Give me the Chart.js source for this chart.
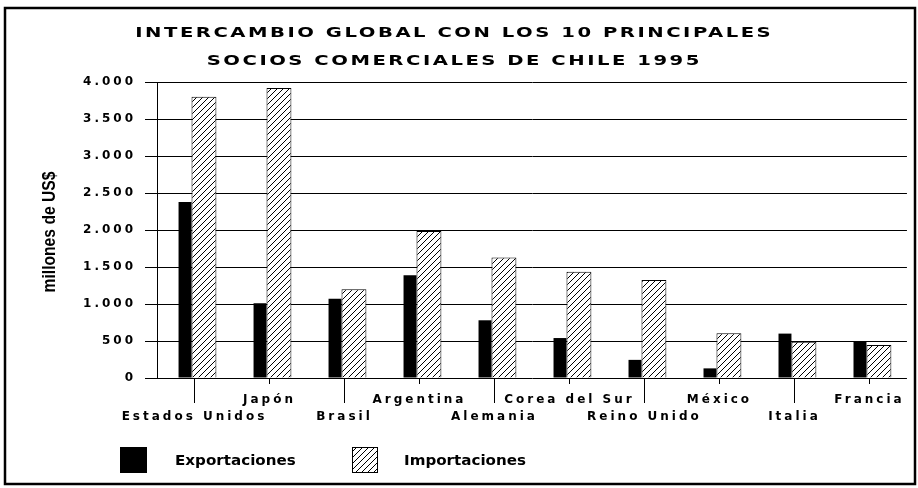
<!DOCTYPE html>
<html>
<head>
<meta charset="utf-8">
<script src="https://cdn.jsdelivr.net/npm/chart.js@4.4.1/dist/chart.umd.min.js"></script>
<style>
  html, body { margin: 0; padding: 0; background: #fff; }
  #wrap { width: 918px; height: 488px; }
</style>
</head>
<body>
<div id="wrap"><canvas id="tradeChart"></canvas></div>
<script>
// data (millones de US$)
const countries = ['Estados Unidos', 'Japón', 'Brasil', 'Argentina', 'Alemania',
                   'Corea del Sur', 'Reino Unido', 'México', 'Italia', 'Francia'];
const exportaciones = [2380, 1010, 1070, 1390, 780, 540, 245, 130, 600, 490];
const importaciones = [3800, 3920, 1200, 1985, 1630, 1435, 1325, 605, 490, 445];
const yTickValues = [0, 500, 1000, 1500, 2000, 2500, 3000, 3500, 4000];
const yTickLabels = ['0', '500', '1.000', '1.500', '2.000', '2.500', '3.000', '3.500', '4.000'];
const titleLines = ['INTERCAMBIO GLOBAL CON LOS 10 PRINCIPALES', 'SOCIOS COMERCIALES DE CHILE 1995'];
const axisTitle = 'millones de US$';
const seriesNames = ['Exportaciones', 'Importaciones'];

const FONT = "'DejaVu Sans', 'Liberation Sans', sans-serif";

// "////" hatch used for the imports bars
function makeHatch() {
    const c = document.createElement('canvas');
    c.width = 6; c.height = 6;
    const g = c.getContext('2d');
    g.fillStyle = '#fff';
    g.fillRect(0, 0, 6, 6);
    g.strokeStyle = '#000';
    g.lineWidth = 1;
    g.beginPath();
    g.moveTo(-1, 7); g.lineTo(7, -1);
    g.stroke();
    return g.createPattern(c, 'repeat');
}
const hatch = makeHatch();

// the original uses a very wide typeface, spread the tick letters out a bit
const spacing = {
    id: 'spacing',
    beforeLayout(chart) { chart.ctx.letterSpacing = '3px'; },
    beforeDraw(chart) { chart.ctx.letterSpacing = '3px'; }
};

// text stretched horizontally (sx) like the scanned original
function wideText(ctx, text, x, y, sx, gap, centered) {
    ctx.save();
    ctx.letterSpacing = gap + 'px';
    const w = (ctx.measureText(text).width - gap) * sx;
    ctx.translate(centered ? x - w / 2 : x, y);
    ctx.scale(sx, 1);
    ctx.textAlign = 'left';
    ctx.fillText(text, 0, 0);
    ctx.restore();
}

const extras = {
    id: 'extras',
    afterDraw(chart) {
        const ctx = chart.ctx;
        const area = chart.chartArea;
        const xs = chart.scales.x;
        ctx.save();
        ctx.fillStyle = '#000';
        ctx.strokeStyle = '#000';

        // frame
        ctx.lineWidth = 2.5;
        ctx.strokeRect(5, 8, 910, 476);

        // x tick marks, longer ones for the lower label row
        ctx.lineWidth = 1;
        xs.ticks.forEach((t, i) => {
            const px = Math.round(xs.getPixelForTick(i)) + 0.5;
            ctx.beginPath();
            ctx.moveTo(px, area.bottom);
            ctx.lineTo(px, area.bottom + (i % 2 ? 6 : 25));
            ctx.stroke();
        });

        // title
        ctx.textBaseline = 'middle';
        ctx.font = 'bold 14px ' + FONT;
        wideText(ctx, titleLines[0], 453, 33, 1.4, 1.8, true);
        wideText(ctx, titleLines[1], 453, 61, 1.4, 1.8, true);

        // y axis title (condensed)
        ctx.save();
        ctx.translate(50, 232);
        ctx.rotate(-Math.PI / 2);
        ctx.font = "bold 18px 'Liberation Sans', Arial, sans-serif";
        wideText(ctx, axisTitle, 0, 0, 0.87, 0, true);
        ctx.restore();

        // legend
        ctx.fillRect(120, 447, 27, 26);
        ctx.fillStyle = hatch;
        ctx.fillRect(352, 447, 26, 26);
        ctx.lineWidth = 1;
        ctx.strokeRect(352.5, 447.5, 25, 25);
        ctx.fillStyle = '#000';
        ctx.font = 'bold 14px ' + FONT;
        wideText(ctx, seriesNames[0], 175, 461, 1.08, 0, false);
        wideText(ctx, seriesNames[1], 404, 461, 1.08, 0, false);
        ctx.restore();
    }
};

document.addEventListener('DOMContentLoaded', function() {
    const ctx = document.getElementById('tradeChart').getContext('2d');
    new Chart(ctx, {
        type: 'bar',
        data: {
            // upper / lower label rows alternate like the original
            labels: countries.map((c, i) => i % 2 ? c : ['', c]),
            datasets: [{
                label: seriesNames[0],
                data: exportaciones,
                backgroundColor: '#000',
                borderColor: '#000',
                borderWidth: 0,
                categoryPercentage: 0.505,
                barPercentage: 0.684
            }, {
                label: seriesNames[1],
                data: importaciones,
                backgroundColor: hatch,
                borderColor: '#000',
                borderWidth: 1,
                categoryPercentage: 0.505,
                barPercentage: 1.316
            }]
        },
        options: {
            responsive: true,
            maintainAspectRatio: false,
            animation: false,
            layout: { padding: { top: 82, right: 8, bottom: 0, left: 0 } },
            plugins: {
                legend: { display: false },
                title: { display: false },
                tooltip: { enabled: false }
            },
            scales: {
                x: {
                    afterFit(scale) { scale.height = 110; },
                    grid: { display: false, drawTicks: false },
                    border: { display: false },
                    ticks: {
                        autoSkip: false,
                        maxRotation: 0,
                        padding: 13,
                        color: '#000',
                        font: { family: FONT, weight: 'bold', size: 12, lineHeight: 17 / 12 }
                    }
                },
                y: {
                    min: 0,
                    max: 4000,
                    afterFit(scale) { scale.width = 157; },
                    afterBuildTicks(scale) { scale.ticks = yTickValues.map(v => ({ value: v })); },
                    grid: { color: '#000', tickColor: '#000', tickLength: 12, lineWidth: 1 },
                    border: { color: '#000' },
                    ticks: {
                        padding: 9,
                        color: '#000',
                        callback: (v, i) => yTickLabels[i],
                        font: { family: FONT, weight: 'bold', size: 12 }
                    }
                }
            }
        },
        plugins: [spacing, extras]
    });
});
</script>
</body>
</html>
